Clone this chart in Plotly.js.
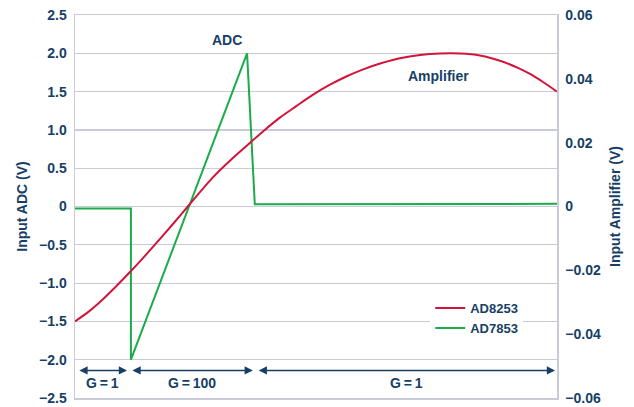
<!DOCTYPE html>
<html>
<head>
<meta charset="utf-8">
<script src="https://cdn.plot.ly/plotly-3.0.1.min.js"></script>
<style>html,body{margin:0;padding:0;background:#fff;}#chart{width:634px;height:407px;}</style>
</head>
<body>
<div id="chart"></div>
<script>
// Time axis (arbitrary units, 0..100)
var ampTime = [0, 2.9, 5.8, 8.5, 11.4, 14.1, 17.0, 20.1, 23.4, 28.6, 32.2, 35.7, 39.0, 42.5, 45.9, 49.4, 52.9, 56.4, 59.8, 63.3, 67.4, 71.6, 75.7, 79.9, 84.0, 88.8, 91.9, 94.4, 97.1, 100];
// AD8253 amplifier input (V), right axis
var ampValues = [-0.0360, -0.03286, -0.02906, -0.02508, -0.02054, -0.01615, -0.01126, -0.00588, 0.0, 0.00912, 0.01442, 0.01913, 0.02352, 0.02784, 0.03144, 0.03504, 0.03816, 0.0408, 0.04296, 0.04478, 0.04644, 0.04747, 0.04795, 0.04795, 0.04733, 0.04536, 0.04344, 0.04152, 0.0390, 0.0360];
// AD7853 ADC input (V), left axis
var adcTime = [0, 11.6, 11.6, 35.7, 37.3, 100];
var adcValues = [-0.025, -0.025, -2.0, 2.0, 0.028, 0.035];

var leftTicks = [2.5, 2.0, 1.5, 1.0, 0.5, 0, -0.5, -1.0, -1.5, -2.0, -2.5];
var leftTickText = ['2.5', '2.0', '1.5', '1.0', '0.5', '0', '\u22120.5', '\u22121.0', '\u22121.5', '\u22122.0', '\u22122.5'];
var rightTicks = [0.06, 0.04, 0.02, 0, -0.02, -0.04, -0.06];
var rightTickText = ['0.06', '0.04', '0.02', '0', '\u22120.02', '\u22120.04', '\u22120.06'];

// Gain regions
var gainStart = [0.6, 11.6, 37.8];
var gainEnd = [10.8, 36.9, 99.6];
var gainLabels = ['G\u2009=\u20091', 'G\u2009=\u2009100', 'G\u2009=\u20091'];

var navy = '#173f66';
var grid = '#c9cbd9';
var FONT = 'Liberation Sans';
function f(size) { return {family: FONT, size: size, color: navy, weight: 700}; }

var traces = [
  {x: ampTime, y: ampValues, yaxis: 'y2', type: 'scatter', mode: 'lines', name: 'AD8253',
   line: {color: '#d2143a', width: 2, shape: 'spline', smoothing: 0.8}},
  {x: adcTime, y: adcValues, yaxis: 'y', type: 'scatter', mode: 'lines', name: 'AD7853',
   line: {color: '#1bab4a', width: 2}}
];

var annotations = [
  {x: 31.6, y: 2.17, xref: 'x', yref: 'y', text: 'ADC', showarrow: false, font: f(14)},
  {x: 75.5, y: 1.71, xref: 'x', yref: 'y', text: 'Amplifier', showarrow: false, font: f(14)}
];
for (var i = 0; i < gainStart.length; i++) {
  annotations.push({x: gainEnd[i], y: -2.14, ax: gainStart[i], ay: -2.14, xref: 'x', yref: 'y',
    axref: 'x', ayref: 'y', text: '', showarrow: true, arrowside: 'end+start',
    arrowhead: 2, arrowsize: 1.1, arrowwidth: 1.5, arrowcolor: navy, standoff: 0, startstandoff: 0});
  annotations.push({x: (gainStart[i] + gainEnd[i]) / 2, y: -2.31, xref: 'x', yref: 'y',
    text: gainLabels[i], showarrow: false, font: f(14)});
}

var layout = {
  width: 634, height: 407,
  margin: {l: 75, r: 77, t: 15, b: 9, pad: 0},
  paper_bgcolor: '#fff', plot_bgcolor: '#fff',
  font: f(14),
  showlegend: true,
  legend: {x: 0.737, y: 0.274, xanchor: 'left', yanchor: 'top', bgcolor: '#fff',
    font: f(13), tracegroupgap: 0, itemwidth: 30},
  xaxis: {range: [0, 100], showticklabels: false, ticks: '', showgrid: false, zeroline: false,
    showline: true, linecolor: grid, linewidth: 1.5, mirror: true, fixedrange: true},
  yaxis: {range: [-2.5, 2.5], tickvals: leftTicks, ticktext: leftTickText, ticks: '',
    showgrid: true, gridcolor: grid, gridwidth: 1.2, zeroline: false,
    showline: true, linecolor: grid, linewidth: 1.5, ticklabelstandoff: 4,
    tickfont: f(14),
    title: {text: 'Input ADC (V)', standoff: 8, font: f(14)}},
  yaxis2: {range: [-0.06, 0.06], overlaying: 'y', side: 'right', tickvals: rightTicks,
    ticktext: rightTickText, ticks: '', showgrid: false, zeroline: false, showline: true,
    linecolor: grid, linewidth: 1.5, ticklabelstandoff: 4,
    tickfont: f(14),
    title: {text: 'Input Amplifier (V)', standoff: 10, font: f(14)}},
  annotations: annotations
};

Plotly.newPlot('chart', traces, layout, {displayModeBar: false, staticPlot: true});
</script>
</body>
</html>
